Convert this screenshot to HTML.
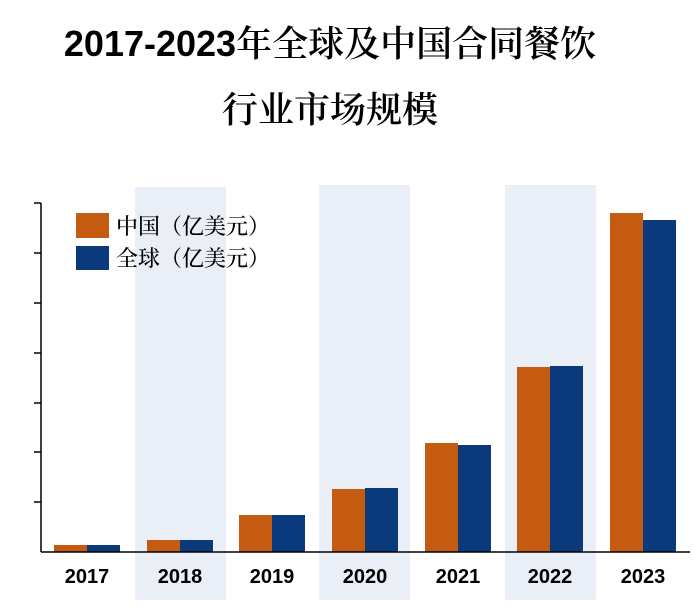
<!DOCTYPE html>
<html><head><meta charset="utf-8"><style>
body{margin:0;background:#fff;width:695px;height:613px;overflow:hidden;position:relative;font-family:"Liberation Sans","Noto Sans CJK SC",sans-serif}
.t{position:absolute;left:0;width:660px;text-align:center;color:#000;font-size:36px;white-space:nowrap;line-height:40px}
</style></head><body>
<div class="t" style="top:22px"><b>2017-2023</b><span style="font-family:'Noto Serif CJK SC',serif;font-weight:600">年全球及中国合同餐饮</span></div>
<div class="t" style="top:88px;font-family:'Noto Serif CJK SC',serif;font-weight:600">行业市场规模</div>
<svg width="695" height="613" style="position:absolute;left:0;top:0">
<rect x="135" y="187" width="91" height="413" fill="#eaeff7"/>
<rect x="319" y="185" width="91" height="415" fill="#eaeff7"/>
<rect x="505" y="185" width="91" height="415" fill="#eaeff7"/>
<g fill="#c55a11">
<rect x="54" y="545" width="33" height="7"/>
<rect x="147" y="540" width="33" height="12"/>
<rect x="239" y="515" width="33" height="37"/>
<rect x="332" y="489" width="33" height="63"/>
<rect x="425" y="443" width="33" height="109"/>
<rect x="517" y="367" width="33" height="185"/>
<rect x="610" y="213" width="33" height="339"/>
</g>
<g fill="#0b3a7c">
<rect x="87" y="545" width="33" height="7"/>
<rect x="180" y="540" width="33" height="12"/>
<rect x="272" y="515" width="33" height="37"/>
<rect x="365" y="488" width="33" height="64"/>
<rect x="458" y="445" width="33" height="107"/>
<rect x="550" y="366" width="33" height="186"/>
<rect x="643" y="220" width="33" height="332"/>
</g>
<g stroke="#000" stroke-width="1.5">
<line x1="41" y1="203" x2="41" y2="552"/>
<line x1="41" y1="552" x2="690" y2="552"/>
<line x1="34" y1="203" x2="41" y2="203"/><line x1="34" y1="253" x2="41" y2="253"/>
<line x1="34" y1="303" x2="41" y2="303"/><line x1="34" y1="353" x2="41" y2="353"/>
<line x1="34" y1="403" x2="41" y2="403"/><line x1="34" y1="452" x2="41" y2="452"/>
<line x1="34" y1="502" x2="41" y2="502"/>
</g>
<rect x="76" y="213" width="33" height="25" fill="#c55a11"/>
<rect x="76" y="246" width="33" height="24" fill="#0b3a7c"/>
<g font-family="'Noto Serif CJK SC',serif" font-size="22" font-weight="500" fill="#000">
<text x="116" y="234">中国（亿美元）</text>
<text x="116" y="266">全球（亿美元）</text>
</g>
<g font-family="Liberation Sans,sans-serif" font-weight="bold" font-size="20" fill="#000" text-anchor="middle">
<text x="87" y="583">2017</text><text x="180" y="583">2018</text><text x="272" y="583">2019</text>
<text x="365" y="583">2020</text><text x="458" y="583">2021</text><text x="550" y="583">2022</text><text x="643" y="583">2023</text>
</g>
</svg>
</body></html>
